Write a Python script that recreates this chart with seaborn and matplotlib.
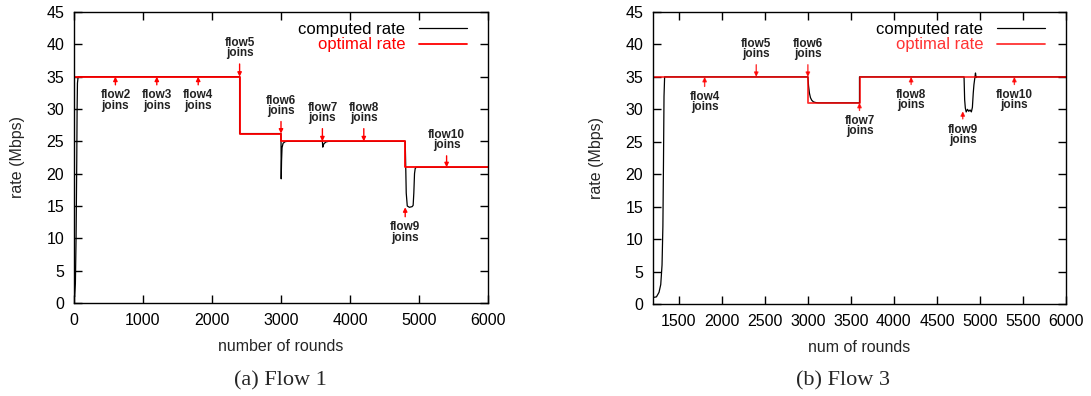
import matplotlib
matplotlib.use("Agg")
import matplotlib.pyplot as plt
import seaborn as sns
import pandas as pd

# ---------------------------------------------------------------------------
# Data
# ---------------------------------------------------------------------------

# (a) Flow 1
flow1_opt_rounds = [0, 2400, 3000, 4800, 6000]
flow1_opt_rate = [35, 26.2, 25, 21, 21]

flow1_rounds = [0, 10, 20, 30, 40, 45, 50, 60, 2400, 2400, 3000, 3003, 3008, 3015,
                3030, 3060, 3090, 3600, 3605, 3620, 3650, 3690, 4800, 4806, 4815,
                4830, 4860, 4900, 4915, 4925, 4935, 4945, 4960, 6000]
flow1_rate = [0.8, 1.0, 3, 10, 22, 30, 34, 35, 35, 26.2, 26.2, 19.2, 22, 24,
              24.7, 24.95, 25, 25, 24.1, 24.6, 24.9, 25, 25, 22, 17,
              15, 14.8, 14.9, 15.1, 17, 20, 20.8, 21, 21]

flow1_join_rounds = [600, 1200, 1800, 2400, 3000, 3600, 4200, 4800, 5400]
flow1_join_labels = ["flow2", "flow3", "flow4", "flow5", "flow6", "flow7",
                     "flow8", "flow9", "flow10"]
flow1_join_rate = [35, 35, 35, 35, 26.2, 25, 25, 14.8, 21]
flow1_join_text = [31.3, 31.3, 31.3, 39.4, 30.5, 29.4, 29.4, 10.9, 25.2]

# (b) Flow 3
flow3_opt_rounds = [1200, 3000, 3600, 6000]
flow3_opt_rate = [35, 31, 35, 35]

flow3_rounds = [1200, 1240, 1270, 1290, 1305, 1315, 1322, 1328, 1335, 3000, 3008,
                3018, 3030, 3045, 3065, 3090, 3120, 3600, 3600, 4815, 4822, 4830,
                4840, 4855, 4870, 4885, 4900, 4912, 4922, 4930, 4940, 4948, 4955,
                4965, 6000]
flow3_rate = [1.0, 1.1, 1.8, 3, 6, 12, 22, 32, 35, 35, 33.6,
              32.5, 31.8, 31.4, 31.15, 31.05, 31.0, 31.0, 35, 35, 31.5, 30.2,
              29.6, 30.0, 29.7, 29.9, 29.6, 30.3, 32.5, 33.8, 34.8, 35.6, 34.9,
              35, 35]

flow3_join_rounds = [1800, 2400, 3000, 3600, 4200, 4800, 5400]
flow3_join_labels = ["flow4", "flow5", "flow6", "flow7", "flow8", "flow9", "flow10"]
flow3_join_rate = [35, 35, 35, 31, 35, 29.7, 35]
flow3_join_text = [31.1, 39.3, 39.3, 27.4, 31.4, 26.1, 31.4]

# ---------------------------------------------------------------------------
# Style
# ---------------------------------------------------------------------------

sns.set_theme(style="ticks")
plt.rcParams["font.family"] = ["Liberation Sans", "DejaVu Sans"]
plt.rcParams["axes.linewidth"] = 1.0

RED = "#ff0000"


def draw_panel(ax, rounds, rate, opt_rounds, opt_rate, joins, xlim, xticks,
               xlabel, red_alpha, legend_red):
    comp = pd.DataFrame({"rounds": rounds, "rate": rate})
    opt = pd.DataFrame({"rounds": opt_rounds, "rate": opt_rate})

    sns.lineplot(data=comp, x="rounds", y="rate", color="black", linewidth=0.9,
                 estimator=None, sort=False, ax=ax, label="computed rate")
    sns.lineplot(data=opt, x="rounds", y="rate", color=RED, alpha=red_alpha,
                 linewidth=1.3, drawstyle="steps-post", estimator=None,
                 sort=False, ax=ax, label="optimal rate")

    for x, lab, yl, yt in zip(*joins):
        ax.annotate(
            f"{lab}\njoins",
            xy=(x, yl), xytext=(x, yt),
            ha="center", va="center", fontsize=8.5, fontweight="bold",
            linespacing=0.8, color="#222222",
            arrowprops=dict(arrowstyle="-|>", color=RED, alpha=red_alpha,
                            lw=1.0, mutation_scale=6, shrinkA=1, shrinkB=0),
        )

    ax.set_xlim(*xlim)
    ax.set_ylim(0, 45)
    ax.set_xticks(xticks)
    ax.set_yticks(range(0, 46, 5))
    ax.tick_params(direction="in", top=True, right=True, length=6, width=1,
                   labelsize=11.5, pad=7, colors="black")
    for s in ax.spines.values():
        s.set_color("black")
    ax.set_xlabel(xlabel, fontsize=11.5)
    ax.set_ylabel("rate (Mbps)", fontsize=11.5)
    ax.xaxis.set_label_coords(0.5, -0.125)
    ax.yaxis.set_label_coords(-0.118, 0.5)

    handles, labels = ax.get_legend_handles_labels()
    ax.legend(handles, labels, loc="upper right", bbox_to_anchor=(0.965, 0.99),
              frameon=False, markerfirst=False, handlelength=2.9, fontsize=12,
              labelspacing=0.05, borderaxespad=0,
              labelcolor=["black", legend_red])


fig = plt.figure(figsize=(10.91, 3.96), dpi=100)
ax1 = fig.add_axes([74 / 1091, 1 - 303 / 396, 414 / 1091, 291 / 396])
ax2 = fig.add_axes([653 / 1091, 1 - 304 / 396, 413 / 1091, 292 / 396])

draw_panel(ax1, flow1_rounds, flow1_rate, flow1_opt_rounds, flow1_opt_rate,
           (flow1_join_rounds, flow1_join_labels, flow1_join_rate, flow1_join_text),
           (0, 6000), range(0, 6001, 1000), "number of rounds", 1.0, RED)
draw_panel(ax2, flow3_rounds, flow3_rate, flow3_opt_rounds, flow3_opt_rate,
           (flow3_join_rounds, flow3_join_labels, flow3_join_rate, flow3_join_text),
           (1200, 6000), range(1500, 6001, 500), "num of rounds", 0.8, "#ff3333")

fig.text(280 / 1091, 1 - 381 / 396, "(a) Flow 1", ha="center", va="center",
         family="Liberation Serif", fontsize=16)
fig.text(843 / 1091, 1 - 381 / 396, "(b) Flow 3", ha="center", va="center",
         family="Liberation Serif", fontsize=16)

fig.savefig("out.png", dpi=100)
plt.close(fig)
